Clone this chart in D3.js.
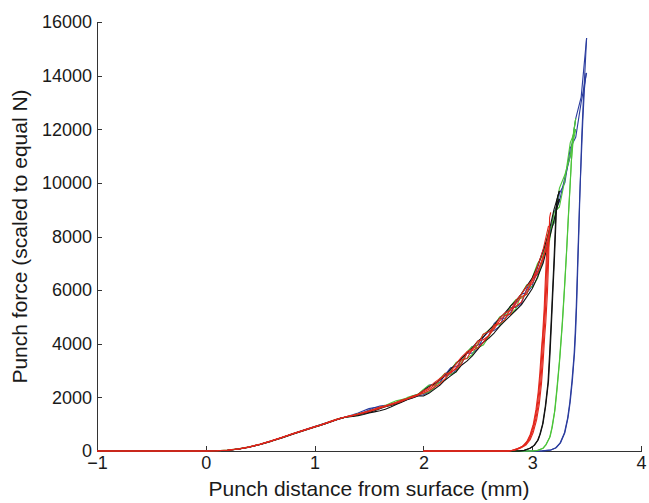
<!DOCTYPE html>
<html lang="en">
<head>
    <meta charset="UTF-8">
    <title>Punch force</title>
    <style>
      body { margin: 0; background: #fff; }
      text { font-family: "Liberation Sans", Arial, Helvetica, sans-serif; fill: #1a1a1a; }
      .axis path, .axis line { stroke: #333; shape-rendering: crispEdges; }
      .axis text { font-size: 18px; }
      .curve { fill: none; stroke-width: 1.1; stroke-linejoin: round; }
    </style>
</head>
<body>
<svg height="503" width="649"></svg>

<script src="https://d3js.org/d3.v7.min.js"></script>

<script>

  // x grid (mm) shared by the loading curves: 0.1 steps to 1 mm, then 0.05 steps
  var loadX = [0, 0.1, 0.2, 0.3, 0.4, 0.5, 0.6, 0.7, 0.8, 0.9, 1.0,
               1.05, 1.1, 1.15, 1.2, 1.25, 1.3, 1.35, 1.4, 1.45, 1.5,
               1.55, 1.6, 1.65, 1.7, 1.75, 1.8, 1.85, 1.9, 1.95, 2.0,
               2.05, 2.1, 2.15, 2.2, 2.25, 2.3, 2.35, 2.4, 2.45, 2.5,
               2.55, 2.6, 2.65, 2.7, 2.75, 2.8, 2.85, 2.9, 2.95, 3.0,
               3.05, 3.1, 3.15, 3.2, 3.25, 3.3, 3.35, 3.4, 3.45, 3.5];

  var blueLoad = [
    [0,8,28,72,148,252,375,505,645,778,910,
     975,1040,1095,1160,1220,1290,1350,1420,1500,1580,
     1620,1640,1670,1720,1780,1860,1950,2050,2120,2250,
     2450,2500,2550,2850,3100,3150,3250,3650,3900,3950,
     4050,4300,4750,4950,4950,5150,5550,5850,5900,6150,
     6850,7500,7800,8900,9300,10200,11000,12400,13200,15400],
    [0,7,27,74,152,248,366,496,635,765,893,
     950,1020,1095,1175,1240,1275,1310,1365,1440,1530,
     1610,1680,1700,1740,1790,1850,1920,1990,2060,2100,
     2200,2350,2650,2800,2850,3000,3450,3650,3650,3800,
     4250,4450,4500,4650,5100,5350,5350,5500,6050,6400,
     6600,7100,8100,8500,9600,10000,11300,11700,13000,14100]
  ];
  var greenLoad = [
    [0,9,32,78,155,255,372,503,642,772,903,
     965,1035,1110,1180,1235,1270,1300,1340,1400,1470,
     1540,1620,1700,1790,1870,1920,1970,2030,2110,2300,
     2450,2450,2550,2650,3000,3300,3400,3450,3600,4000,
     4350,4500,4700,4700,4900,5400,5650,5700,5850,6450,
     7000,7300,8200,8500,9800,10300,11000,12400],
    [0,8,30,76,150,246,366,497,638,768,897,
     955,1025,1095,1165,1225,1285,1330,1385,1430,1490,
     1560,1630,1680,1720,1790,1890,1990,2060,2120,2150,
     2200,2350,2700,2900,2850,2950,3300,3700,3900,3850,
     3950,4250,4650,5000,5100,5100,5300,5850,6200,6100,
     6450,7200,7600,8900,9100,10100,11500,12000]
  ];
  var blackLoad = [
    [0,7,27,70,142,242,360,490,630,760,890,
     950,1020,1095,1165,1235,1270,1290,1320,1360,1420,
     1460,1500,1560,1640,1730,1820,1910,1980,2050,2050,
     2150,2300,2450,2650,2800,2950,3200,3350,3550,3800,
     4050,4200,4400,4650,4850,5050,5250,5450,5750,6050,
     6500,7000,7800,8600,9400],
    [0,8,29,73,148,252,372,505,645,775,905,
     965,1030,1100,1170,1225,1275,1310,1360,1400,1440,
     1500,1580,1650,1700,1760,1840,1930,2020,2100,2250,
     2400,2500,2650,2800,3050,3250,3450,3650,3850,4100,
     4250,4500,4700,4950,5150,5400,5600,5850,6150,6450,
     6900,7450,8100,9000,9700]
  ];
  var redLoad = [
    [0,9,32,78,155,258,378,510,650,782,912,
     970,1045,1115,1180,1240,1285,1330,1380,1440,1500,
     1570,1640,1690,1750,1820,1900,1960,2040,2110,2250,
     2350,2550,2700,2800,2950,3250,3500,3700,3800,3950,
     4350,4450,4600,4950,5150,5250,5600,5850,6150,6350,
     6900,7500,8400],
    [0,8,30,75,150,250,370,500,640,770,900,
     958,1028,1098,1168,1228,1278,1318,1368,1418,1478,
     1530,1590,1680,1720,1780,1850,1950,2000,2080,2150,
     2250,2380,2500,2700,2950,3050,3250,3650,3750,3850,
     4050,4300,4700,4750,4900,5300,5400,5550,6000,6250,
     6650,7150,8100],
    [0,7,28,72,146,246,368,498,636,766,896,
     955,1022,1092,1162,1232,1290,1330,1375,1425,1470,
     1545,1610,1650,1740,1810,1880,1930,2030,2100,2200,
     2300,2450,2650,2900,2900,3100,3400,3450,3800,4100,
     4150,4300,4550,4850,5050,5100,5500,5750,5850,6400,
     6700,7250,7700]
  ];

  // unloading curves as [mm, N] pairs
  var blueUnload = [
    [[3.50,15400],[3.485,14200],[3.47,13100],[3.455,11700],[3.44,9800],[3.43,8300],[3.42,7000],[3.41,5600],
     [3.40,4500],[3.39,3700],[3.37,2650],[3.35,1850],[3.33,1250],[3.30,680],[3.26,300],[3.22,120],
     [3.17,35],[3.10,5],[3.0,0],[2.0,0]],
    [[3.495,14100],[3.48,13500],[3.465,12300],[3.45,10800],[3.435,9300],[3.425,8000],[3.415,6700],[3.405,5400],
     [3.395,4400],[3.385,3600],[3.365,2600],[3.345,1800],[3.325,1220],[3.295,660],[3.255,290],[3.215,115],
     [3.165,32],[3.09,4],[3.0,0],[2.0,0]]
  ];
  var greenUnload = [
    [[3.40,12400],[3.38,11900],[3.365,11200],[3.35,10000],[3.335,8900],[3.32,7700],[3.30,6250],[3.28,4900],
     [3.255,3500],[3.23,2350],[3.21,1550],[3.185,900],[3.165,540],[3.13,250],[3.10,100],[3.05,20],[3.0,0],[2.0,0]],
    [[3.40,12000],[3.375,11500],[3.36,10800],[3.345,9700],[3.33,8600],[3.315,7400],[3.295,6000],[3.275,4700],
     [3.25,3350],[3.225,2250],[3.205,1450],[3.18,850],[3.16,500],[3.125,230],[3.095,90],[3.045,18],[2.99,0],[2.0,0]]
  ];
  var blackUnload = [
    [[3.25,9700],[3.235,9500],[3.225,9300],[3.215,8200],[3.205,7200],[3.19,5900],[3.18,5000],[3.165,3700],
     [3.15,2600],[3.125,1700],[3.10,1030],[3.075,640],[3.055,410],[3.02,210],[2.98,100],[2.93,25],[2.88,0],[2.0,0]],
    [[3.25,9400],[3.232,9300],[3.22,9100],[3.21,8100],[3.20,7100],[3.185,5800],[3.175,4900],[3.16,3650],
     [3.145,2550],[3.12,1660],[3.095,1000],[3.07,620],[3.05,400],[3.015,200],[2.975,95],[2.925,24],[2.875,0],[2.0,0]]
  ];
  var redUnload = [
    [[3.17,8900],[3.16,8700],[3.15,7000],[3.14,5900],[3.125,4800],[3.115,4300],[3.10,3300],[3.085,2500],
     [3.065,1750],[3.04,1150],[3.01,700],[2.98,410],[2.94,210],[2.89,100],[2.84,30],[2.79,0],[2.0,0]],
    [[3.15,8100],[3.14,7500],[3.13,6600],[3.12,5600],[3.105,4600],[3.095,4100],[3.08,3100],[3.065,2350],
     [3.045,1650],[3.02,1080],[2.99,650],[2.96,380],[2.92,190],[2.87,90],[2.82,25],[2.77,0],[2.0,0]],
    [[3.16,8500],[3.155,8200],[3.145,7300],[3.135,6300],[3.12,5100],[3.11,4500],[3.095,3500],[3.08,2650],
     [3.06,1850],[3.035,1230],[3.005,750],[2.975,440],[2.935,230],[2.885,110],[2.835,35],[2.785,0],[2.0,0]],
    [[3.14,7800],[3.13,7200],[3.12,6300],[3.11,5300],[3.095,4300],[3.085,3800],[3.07,2900],[3.055,2200],
     [3.035,1550],[3.01,1000],[2.98,600],[2.95,350],[2.91,170],[2.86,80],[2.81,20],[2.76,0],[2.0,0]]
  ];

  var xTicks = [-1, 0, 1, 2, 3, 4];
  var yTicks = [0, 2000, 4000, 6000, 8000, 10000, 12000, 14000, 16000];

  var colors = { blue: "#2a3c9e", green: "#4cc43a", black: "#111111", red: "#e2261c" };

  var graphMargins = {top: 22, right: 8, bottom: 52, left: 97};

  var svg = d3.select("svg")
    .append("g")
    .attr("transform", "translate(" + graphMargins.left + "," + graphMargins.top + ")");

  var graphWidth = d3.select("svg").attr("width") - graphMargins.left - graphMargins.right;
  var graphHeight = d3.select("svg").attr("height") - graphMargins.top - graphMargins.bottom;

  var xScale = d3.scaleLinear().domain([-1, 4]).range([0, graphWidth]);
  var yScale = d3.scaleLinear().domain([0, 16000]).range([graphHeight, 0]);

  var line = d3.line()
    .x(function(d) { return xScale(d[0]); })
    .y(function(d) { return yScale(d[1]); });

  // loading runs start flat at -1 mm
  var toPairs = function(values) {
    var pts = [[-1, 0]];
    values.forEach(function(v, i) { pts.push([loadX[i], v]); });
    return pts;
  };

  var drawSet = function(loads, unloads, color) {
    loads.forEach(function(vals) {
      svg.append("path")
        .attr("class", "curve")
        .attr("d", line(toPairs(vals)))
        .attr("stroke", color);
    });
    unloads.forEach(function(pts) {
      svg.append("path")
        .attr("class", "curve")
        .attr("d", line(pts))
        .attr("stroke", color);
    });
  };

  svg.append("g")
    .attr("class", "x axis")
    .attr("transform", "translate(0," + graphHeight + ")")
    .call(d3.axisBottom(xScale).tickValues(xTicks).tickFormat(d3.format("d"))
      .tickSize(-5).tickSizeOuter(0).tickPadding(5));

  svg.append("g")
    .attr("class", "y axis")
    .call(d3.axisLeft(yScale).tickValues(yTicks).tickFormat(d3.format("d"))
      .tickSize(-5).tickSizeOuter(0).tickPadding(5));

  drawSet(blueLoad, blueUnload, colors.blue);
  drawSet(greenLoad, greenUnload, colors.green);
  drawSet(blackLoad, blackUnload, colors.black);
  drawSet(redLoad, redUnload, colors.red);

  svg.append("text")
    .attr("x", graphWidth / 2)
    .attr("y", graphHeight + 45)
    .attr("text-anchor", "middle")
    .style("font-size", "21px")
    .text("Punch distance from surface (mm)");

  svg.append("text")
    .attr("transform", "translate(" + (27 - graphMargins.left) + "," + (graphHeight / 2) + ") rotate(-90)")
    .attr("text-anchor", "middle")
    .style("font-size", "21px")
    .text("Punch force (scaled to equal N)");

</script>
</body>
</html>
